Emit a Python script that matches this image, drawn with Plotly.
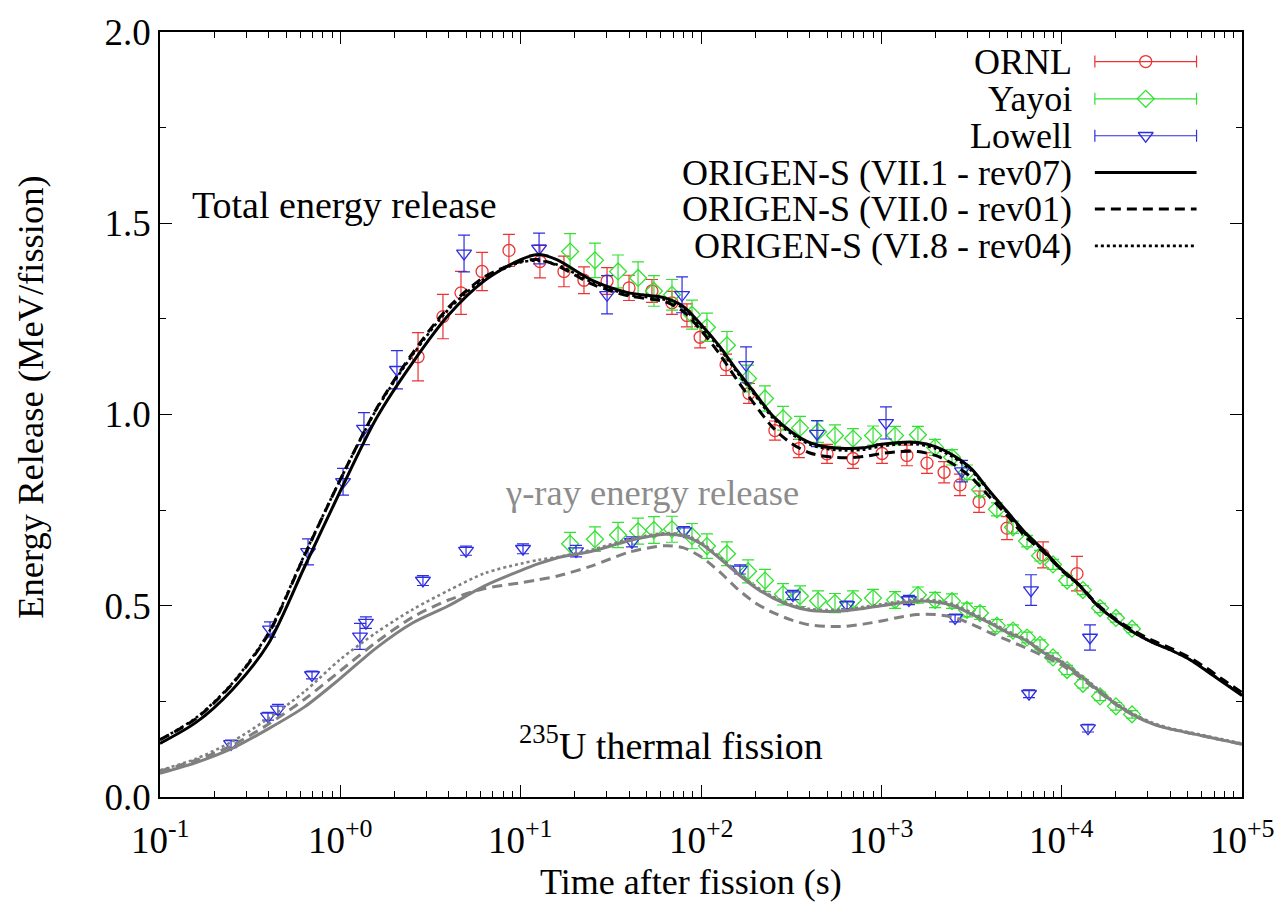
import numpy as np
import plotly.graph_objects as go

# ---------------- measured decay-heat data (time as log10 of seconds) ----------------
ornl_log_t = [0.431, 0.569, 0.669, 0.786, 0.935, 1.107, 1.240, 1.351, 1.479, 1.601,
              1.728, 1.839, 1.922, 1.995, 2.139, 2.266, 2.410, 2.543, 2.699, 2.843,
              3.004, 3.142, 3.253, 3.348, 3.436, 3.542, 3.697, 3.897, 4.085]
ornl_total = [1.151, 1.256, 1.318, 1.374, 1.429, 1.400, 1.374, 1.351, 1.349, 1.331,
              1.323, 1.292, 1.259, 1.202, 1.130, 1.055, 0.958, 0.911, 0.897, 0.885,
              0.898, 0.893, 0.873, 0.849, 0.816, 0.772, 0.703, 0.633, 0.584]
ornl_err = [0.063, 0.058, 0.056, 0.050, 0.042, 0.043, 0.040, 0.035, 0.035, 0.033,
            0.030, 0.030, 0.030, 0.028, 0.028, 0.026, 0.025, 0.024, 0.025, 0.026,
            0.026, 0.027, 0.027, 0.028, 0.028, 0.028, 0.030, 0.034, 0.045]

yayoi_log_t = [1.274, 1.412, 1.540, 1.651, 1.739, 1.839, 1.950, 2.033, 2.144, 2.261,
               2.355, 2.455, 2.549, 2.649, 2.743, 2.843, 2.954, 3.076, 3.203, 3.298,
               3.392, 3.475, 3.547, 3.641, 3.730, 3.808, 3.880, 3.952, 4.030, 4.118,
               4.213, 4.301, 4.390]
yayoi_total = [1.426, 1.403, 1.374, 1.357, 1.323, 1.313, 1.261, 1.228, 1.181, 1.094,
               1.042, 0.990, 0.965, 0.955, 0.945, 0.937, 0.945, 0.945, 0.947, 0.914,
               0.888, 0.849, 0.803, 0.752, 0.705, 0.669, 0.631, 0.608, 0.566, 0.541,
               0.494, 0.468, 0.440]
yayoi_total_err = [0.047, 0.045, 0.043, 0.042, 0.040, 0.040, 0.038, 0.037, 0.036, 0.035,
                   0.033, 0.031, 0.030, 0.028, 0.028, 0.026, 0.025, 0.024, 0.022, 0.021,
                   0.020, 0.019, 0.018, 0.017, 0.016, 0.015, 0.014, 0.013, 0.013, 0.012,
                   0.012, 0.011, 0.010]
yayoi_gamma = [0.662, 0.674, 0.685, 0.695, 0.698, 0.700, 0.682, 0.656, 0.636, 0.590,
               0.566, 0.530, 0.525, 0.513, 0.507, 0.515, 0.520, 0.515, 0.528, 0.515,
               0.512, 0.489, 0.481, 0.448, 0.435, 0.417, 0.398, 0.365, 0.332, 0.296,
               0.263, 0.237, 0.216]
yayoi_gamma_err = [0.030, 0.032, 0.033, 0.034, 0.035, 0.034, 0.033, 0.032, 0.031, 0.030,
                   0.029, 0.028, 0.027, 0.026, 0.025, 0.024, 0.023, 0.022, 0.021, 0.020,
                   0.019, 0.018, 0.017, 0.016, 0.015, 0.014, 0.013, 0.012, 0.012, 0.011,
                   0.011, 0.010, 0.010]

lowell_total_log_t = [-0.390, -0.179, 0.015, 0.131, 0.314, 0.686, 1.102, 1.479, 1.895,
                      2.250, 2.643, 3.026, 3.447, 3.830, 4.157]
lowell_total = [0.438, 0.641, 0.824, 0.963, 1.117, 1.421, 1.434, 1.313, 1.313,
                1.130, 0.950, 0.978, 0.852, 0.541, 0.417]
lowell_total_err = [0.020, 0.034, 0.035, 0.042, 0.050, 0.048, 0.040, 0.050, 0.047,
                    0.047, 0.034, 0.042, 0.028, 0.040, 0.033]
lowell_gamma_log_t = [-0.606, -0.401, -0.346, -0.157, 0.109, 0.142, 0.458, 0.697, 1.013,
                      1.307, 1.617, 1.906, 2.216, 2.510, 2.810, 3.153, 3.409, 3.819, 4.146]
lowell_gamma = [0.139, 0.211, 0.229, 0.319, 0.420, 0.456, 0.566, 0.644, 0.649,
                0.643, 0.667, 0.695, 0.595, 0.528, 0.502, 0.515, 0.468, 0.270, 0.180]
lowell_gamma_err = [0.010, 0.010, 0.013, 0.010, 0.034, 0.015, 0.013, 0.012, 0.013,
                    0.015, 0.013, 0.012, 0.012, 0.012, 0.010, 0.012, 0.010, 0.010, 0.010]

# ---------------- ORIGEN-S calculations ----------------
calc_log_t = [-1.0, -0.8, -0.6, -0.4, -0.2, 0.0, 0.2, 0.4, 0.6, 0.8, 1.0, 1.1, 1.2, 1.4,
              1.6, 1.8, 1.9, 2.0, 2.1, 2.2, 2.3, 2.4, 2.5, 2.6, 2.7, 2.8, 2.9, 3.0, 3.1,
              3.2, 3.3, 3.4, 3.5, 3.6, 3.7, 3.8, 3.9, 4.0, 4.1, 4.2, 4.3, 4.4, 4.5, 4.6,
              4.7, 4.8, 4.9, 5.0]
total_rev07 = [0.140, 0.195, 0.280, 0.400, 0.600, 0.800, 0.990, 1.135, 1.260, 1.350,
               1.405, 1.418, 1.405, 1.350, 1.318, 1.305, 1.283, 1.235, 1.180, 1.115,
               1.055, 0.995, 0.955, 0.927, 0.915, 0.911, 0.913, 0.922, 0.927, 0.927,
               0.916, 0.893, 0.858, 0.800, 0.745, 0.690, 0.645, 0.595, 0.553, 0.500,
               0.462, 0.430, 0.405, 0.385, 0.362, 0.331, 0.298, 0.265]
total_rev01 = [0.150, 0.205, 0.295, 0.425, 0.630, 0.830, 1.015, 1.160, 1.280, 1.360,
               1.400, 1.405, 1.390, 1.340, 1.310, 1.295, 1.270, 1.220, 1.160, 1.090,
               1.025, 0.965, 0.925, 0.900, 0.890, 0.887, 0.890, 0.898, 0.903, 0.903,
               0.893, 0.870, 0.835, 0.785, 0.735, 0.680, 0.640, 0.593, 0.553, 0.503,
               0.465, 0.435, 0.410, 0.390, 0.367, 0.338, 0.305, 0.273]
total_rev04 = [0.150, 0.207, 0.297, 0.428, 0.632, 0.830, 1.013, 1.155, 1.275, 1.355,
               1.398, 1.402, 1.392, 1.345, 1.313, 1.300, 1.278, 1.230, 1.175, 1.110,
               1.050, 0.990, 0.950, 0.922, 0.910, 0.906, 0.908, 0.917, 0.922, 0.922,
               0.911, 0.888, 0.853, 0.797, 0.742, 0.687, 0.643, 0.593, 0.551, 0.499,
               0.462, 0.430, 0.405, 0.385, 0.362, 0.332, 0.299, 0.267]
gamma_rev07 = [0.062, 0.090, 0.127, 0.178, 0.235, 0.310, 0.390, 0.455, 0.500, 0.552,
               0.592, 0.610, 0.625, 0.643, 0.670, 0.687, 0.683, 0.662, 0.625, 0.585,
               0.548, 0.520, 0.500, 0.488, 0.485, 0.487, 0.493, 0.500, 0.507, 0.512,
               0.510, 0.500, 0.478, 0.455, 0.430, 0.410, 0.377, 0.352, 0.318, 0.280,
               0.243, 0.214, 0.192, 0.178, 0.168, 0.158, 0.148, 0.138]
gamma_rev01 = [0.068, 0.096, 0.135, 0.190, 0.255, 0.330, 0.405, 0.470, 0.515, 0.545,
               0.560, 0.568, 0.577, 0.605, 0.640, 0.657, 0.652, 0.628, 0.590, 0.545,
               0.508, 0.482, 0.463, 0.450, 0.446, 0.446, 0.452, 0.460, 0.470, 0.477,
               0.477, 0.470, 0.452, 0.430, 0.410, 0.390, 0.368, 0.345, 0.313, 0.277,
               0.242, 0.213, 0.192, 0.178, 0.168, 0.158, 0.148, 0.138]
gamma_rev04 = [0.070, 0.100, 0.145, 0.205, 0.275, 0.360, 0.430, 0.490, 0.540, 0.585,
               0.610, 0.620, 0.627, 0.647, 0.674, 0.690, 0.686, 0.666, 0.629, 0.589,
               0.552, 0.524, 0.504, 0.492, 0.489, 0.491, 0.497, 0.504, 0.511, 0.516,
               0.514, 0.504, 0.482, 0.459, 0.434, 0.413, 0.380, 0.355, 0.321, 0.283,
               0.246, 0.217, 0.195, 0.180, 0.170, 0.160, 0.150, 0.140]

x_tick_exp = [-1, 0, 1, 2, 3, 4, 5]
x_tick_text = ["10<sup>-1</sup>", "10<sup>+0</sup>", "10<sup>+1</sup>", "10<sup>+2</sup>",
               "10<sup>+3</sup>", "10<sup>+4</sup>", "10<sup>+5</sup>"]
y_tick_vals = [0.0, 0.5, 1.0, 1.5, 2.0]

legend_labels = ["ORNL", "Yayoi", "Lowell", "ORIGEN-S (VII.1 - rev07)",
                 "ORIGEN-S (VII.0 - rev01)", "ORIGEN-S (VI.8 - rev04)"]

RED = "rgb(236,50,50)"
GREEN = "rgb(50,225,50)"
BLUE = "rgb(45,45,225)"
GRAY = "rgb(128,128,128)"
FONT = "Liberation Serif, Times New Roman, serif"


def sec(log_t):
    return np.power(10.0, np.asarray(log_t))


fig = go.Figure()


def add_points(log_t, vals, errs, color, symbol, size):
    fig.add_trace(go.Scatter(
        x=sec(log_t), y=vals, mode="markers", showlegend=False,
        marker=dict(symbol=symbol, size=size, color=color,
                    line=dict(color=color, width=1.3)),
        error_y=dict(type="data", array=errs, visible=True, color=color,
                     thickness=1.2, width=6),
    ))


add_points(ornl_log_t, ornl_total, ornl_err, RED, "circle-open", 12)
add_points(yayoi_log_t, yayoi_total, yayoi_total_err, GREEN, "diamond-open", 13)
add_points(yayoi_log_t, yayoi_gamma, yayoi_gamma_err, GREEN, "diamond-open", 13)
add_points(lowell_total_log_t, lowell_total, lowell_total_err, BLUE, "triangle-down-open", 13)
add_points(lowell_gamma_log_t, lowell_gamma, lowell_gamma_err, BLUE, "triangle-down-open", 13)


def add_curve(vals, color, dash, width):
    fig.add_trace(go.Scatter(
        x=sec(calc_log_t), y=vals, mode="lines", showlegend=False,
        line=dict(color=color, dash=dash, width=width, shape="spline", smoothing=0.8),
    ))


add_curve(gamma_rev04, GRAY, "dot", 2.6)
add_curve(gamma_rev01, GRAY, "10px,6px", 3)
add_curve(gamma_rev07, GRAY, "solid", 3)
add_curve(total_rev04, "black", "dot", 2.6)
add_curve(total_rev01, "black", "10px,6px", 3)
add_curve(total_rev07, "black", "solid", 3)

# ---------------- hand-built key in plot-fraction coordinates ----------------
key_rows = [0.9614, 0.9126, 0.8644, 0.8162, 0.7686, 0.7204]
key_x0, key_x1, key_xm = 0.864, 0.958, 0.911
key_err_styles = [(RED, "circle-open", 12), (GREEN, "diamond-open", 13),
                  (BLUE, "triangle-down-open", 13)]
for row, (color, symbol, size) in zip(key_rows[:3], key_err_styles):
    fig.add_trace(go.Scatter(
        x=[key_xm], y=[row], xaxis="x2", yaxis="y2", mode="markers", showlegend=False,
        marker=dict(symbol=symbol, size=size, color=color,
                    line=dict(color=color, width=1.3)),
        error_x=dict(type="constant", value=key_x1 - key_xm, color=color,
                     thickness=1.2, width=6),
    ))
for row, dash, width in zip(key_rows[3:], ["solid", "10px,6px", "dot"], [3, 3, 2.6]):
    fig.add_trace(go.Scatter(
        x=[key_x0, key_x1], y=[row, row], xaxis="x2", yaxis="y2", mode="lines",
        showlegend=False, line=dict(color="black", dash=dash, width=width),
    ))

annotations = []
for row, label in zip(key_rows, legend_labels):
    annotations.append(dict(x=0.845, y=row, xref="paper", yref="paper", text=label,
                            showarrow=False, xanchor="right", yanchor="middle",
                            font=dict(family=FONT, size=36, color="black")))

# decade labels under the time axis, placed at their tick positions
for exp, label in zip(x_tick_exp, x_tick_text):
    annotations.append(dict(x=exp, y=-0.0195, xref="x", yref="paper", text=label,
                            showarrow=False, xanchor="center", yanchor="top",
                            font=dict(family=FONT, size=37, color="black")))

annotations += [
    dict(x=0.0277, y=0.774, xref="paper", yref="paper", text="Total energy release",
         showarrow=False, xanchor="left", yanchor="middle",
         font=dict(family=FONT, size=38, color="black")),
    dict(x=0.4543, y=0.3985, xref="paper", yref="paper", text="γ-ray energy release",
         showarrow=False, xanchor="center", yanchor="middle",
         font=dict(family=FONT, size=36.5, color="rgb(140,140,140)")),
    dict(x=0.4723, y=0.0707, xref="paper", yref="paper",
         text="<sup>235</sup>U thermal fission",
         showarrow=False, xanchor="center", yanchor="middle",
         font=dict(family=FONT, size=38, color="black")),
    dict(x=-0.1192, y=0.522, xref="paper", yref="paper",
         text="Energy Release (MeV/fission)", textangle=-90,
         showarrow=False, xanchor="center", yanchor="middle",
         font=dict(family=FONT, size=36.5, color="black")),
    dict(x=0.4908, y=-0.1105, xref="paper", yref="paper",
         text="Time after fission (s)",
         showarrow=False, xanchor="center", yanchor="middle",
         font=dict(family=FONT, size=36, color="black")),
]

x_minor = [m * 10.0 ** k for k in range(-1, 5) for m in range(2, 10)]

fig.update_layout(
    width=1279, height=910,
    margin=dict(l=160, r=37, t=19, b=113),
    paper_bgcolor="white", plot_bgcolor="white",
    showlegend=False,
    font=dict(family=FONT, size=37, color="black"),
    annotations=annotations,
    xaxis=dict(
        type="log", range=[-1, 5],
        tickvals=[10.0 ** e for e in x_tick_exp], showticklabels=False,
        ticks="inside", ticklen=12, tickwidth=1.3, tickcolor="black",
        minor=dict(tickvals=x_minor, ticks="inside", ticklen=6, tickwidth=1.1,
                   tickcolor="black", showgrid=False),
        showline=True, linecolor="black", linewidth=1.5, mirror="allticks",
        showgrid=False, zeroline=False,
    ),
    yaxis=dict(
        range=[0, 2], tickvals=y_tick_vals,
        ticktext=[f"{v:.1f}" for v in y_tick_vals],
        ticks="inside", ticklen=12, tickwidth=1.3, tickcolor="black",
        minor=dict(dtick=0.25, ticks="inside", ticklen=6, tickwidth=1.1,
                   tickcolor="black", showgrid=False),
        showline=True, linecolor="black", linewidth=1.5, mirror="allticks",
        showgrid=False, zeroline=False, ticklabeloverflow="allow",
        tickfont=dict(family=FONT, size=37, color="black"),
    ),
    xaxis2=dict(overlaying="x", range=[0, 1], visible=False, fixedrange=True),
    yaxis2=dict(overlaying="y", range=[0, 1], visible=False, fixedrange=True),
)

fig.write_html("out.html")
